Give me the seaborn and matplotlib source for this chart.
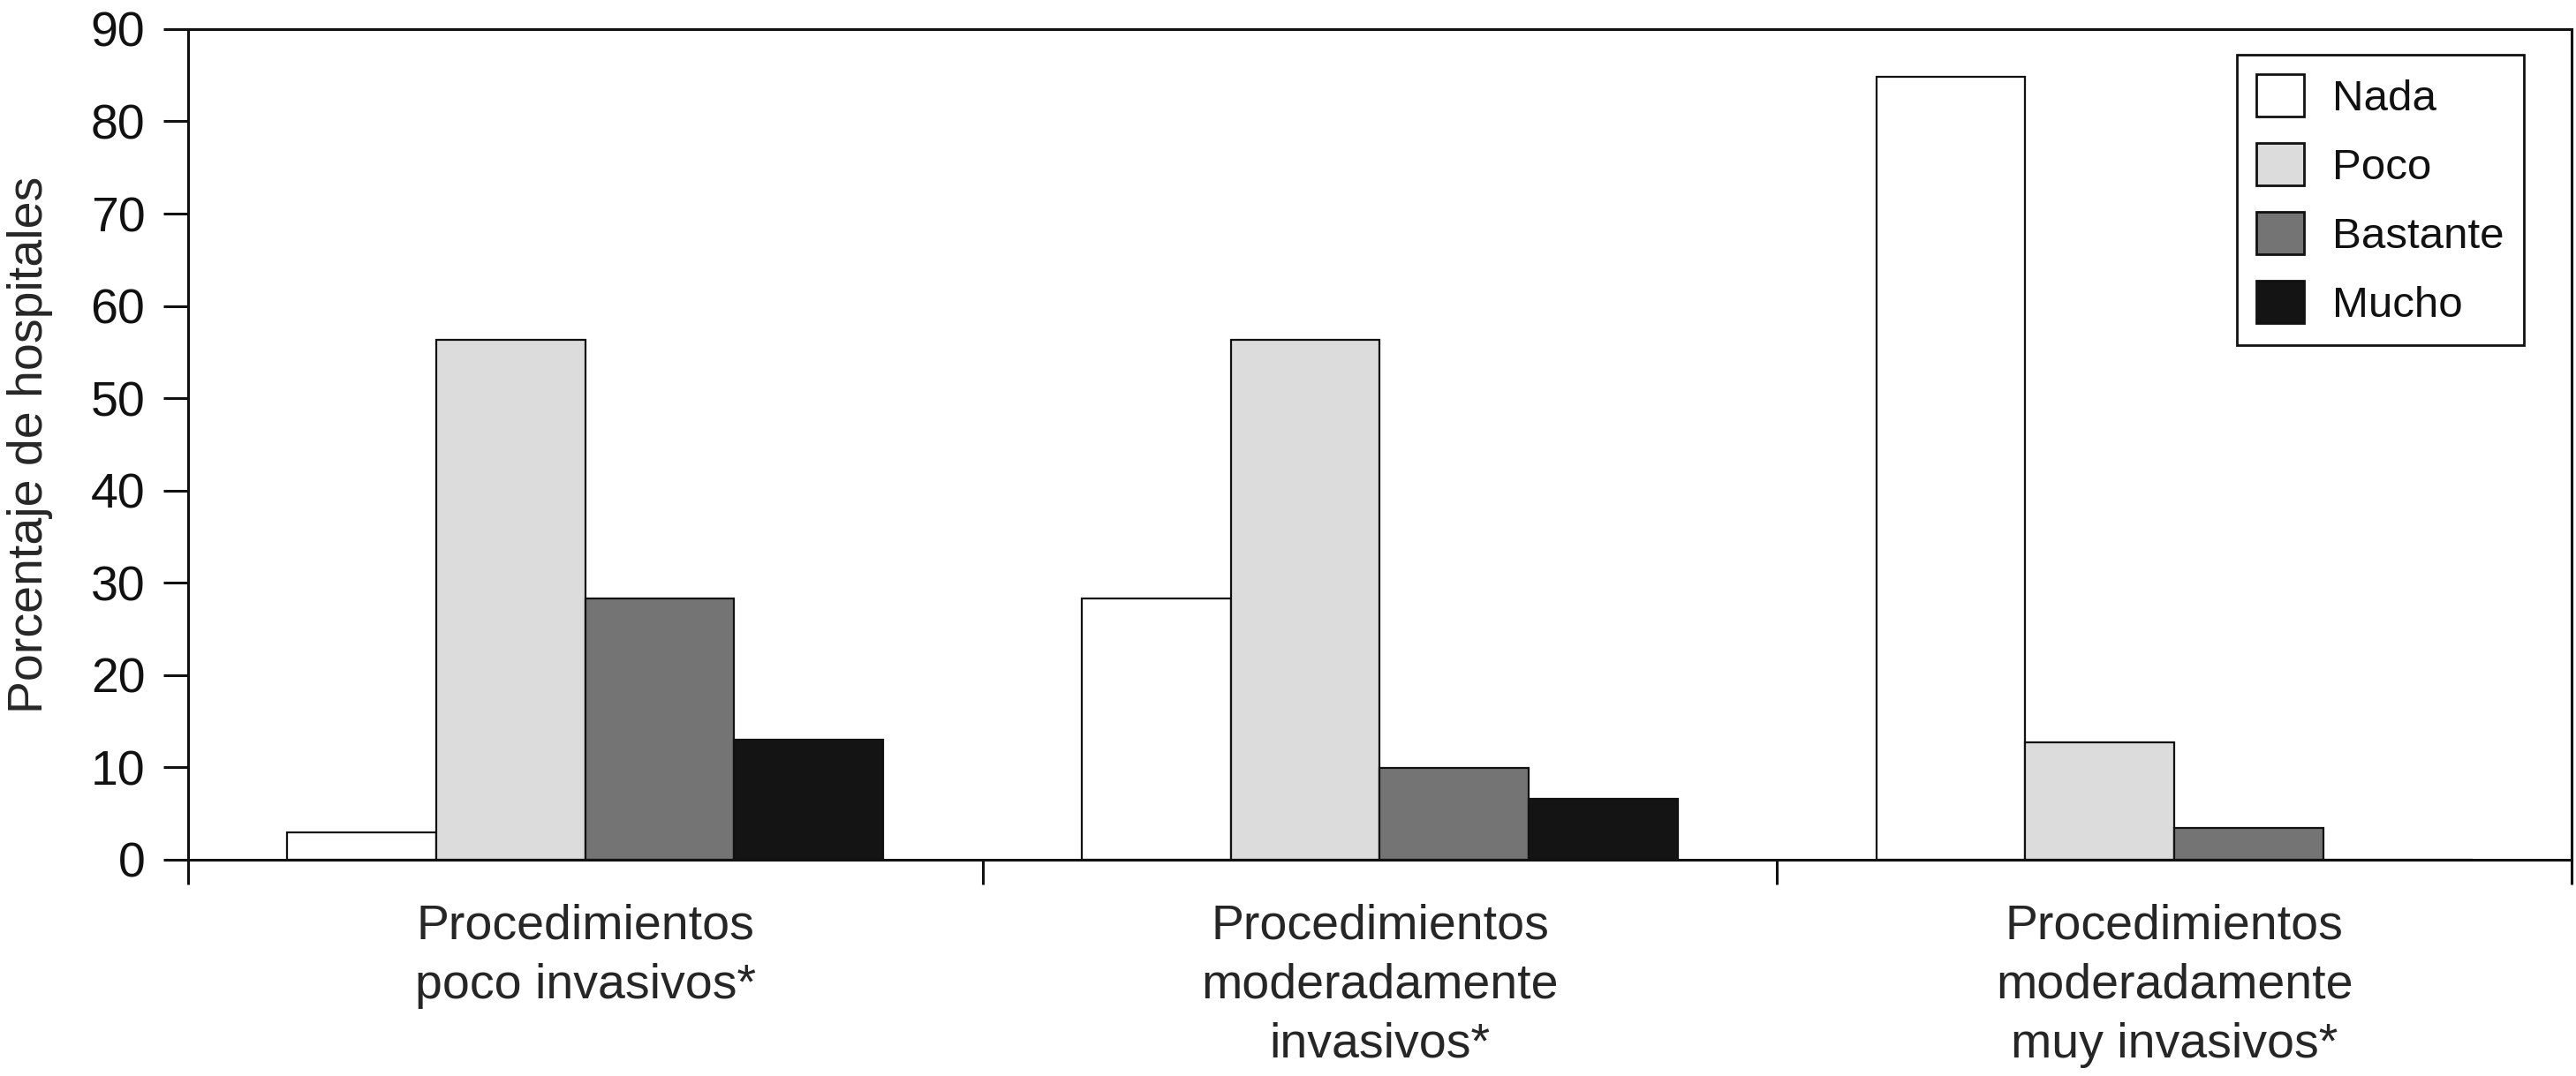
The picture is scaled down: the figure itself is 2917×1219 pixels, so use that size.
import pandas as pd
import numpy as np
import matplotlib
matplotlib.use('Agg')
import matplotlib.pyplot as plt
import seaborn as sns

# values
categories = [
    'Procedimientos\npoco invasivos*',
    'Procedimientos\nmoderadamente\ninvasivos*',
    'Procedimientos\nmoderadamente\nmuy invasivos*',
]
levels = ['Nada', 'Poco', 'Bastante', 'Mucho']
nada = [3.0, 28.3, 84.8]
poco = [56.3, 56.3, 12.7]
bastante = [28.3, 9.9, 3.4]
mucho = [13.0, 6.6, 0.0]
yticks = [0, 10, 20, 30, 40, 50, 60, 70, 80, 90]

level_colors = ['#ffffff', '#dcdcdc', '#747474', '#141414']

df = pd.DataFrame({
    'categoria': categories * 4,
    'nivel': [lv for lv in levels for _ in categories],
    'valor': nada + poco + bastante + mucho,
})

sns.set_style('ticks')
plt.rcParams['font.family'] = ['Liberation Sans', 'DejaVu Sans']
plt.rcParams['axes.linewidth'] = 2.2
plt.rcParams['text.color'] = '#111111'

fig = plt.figure(figsize=(29.17, 12.19), dpi=100)
ax = fig.add_axes([0.073, 0.201, 0.9253, 0.772])

sns.barplot(data=df, x='categoria', y='valor', hue='nivel', order=categories,
            hue_order=levels, palette=level_colors, width=0.75, gap=0,
            edgecolor='#111111', linewidth=1.6, saturation=1, ax=ax)

ax.set_ylim(0, 90)
ax.set_xlim(-0.5, 2.5)
ax.set_yticks(yticks)
ax.tick_params(axis='y', labelsize=40, length=20, width=2.2, pad=15,
               colors='#111111')
ax.set_xticks(range(len(categories)))
ax.set_xticklabels(categories, fontsize=40, linespacing=1.37)
ax.tick_params(axis='x', which='major', length=0, pad=36)
ax.set_xticks([-0.5, 0.5, 1.5, 2.5], minor=True)
ax.tick_params(axis='x', which='minor', length=20, width=2.2, color='#111111')

ax.set_xlabel('')
ax.set_ylabel('Porcentaje de hospitales', fontsize=40)
ax.yaxis.set_label_coords(-0.0565, 0.5)
for sp in ax.spines.values():
    sp.set_color('#111111')

sns.move_legend(ax, loc='upper right', bbox_to_anchor=(0.98, 0.969),
                title=None, fontsize=35.5, frameon=True, fancybox=False,
                framealpha=1, edgecolor='#111111', borderpad=0.45,
                labelspacing=0.56, handlelength=1.1, handleheight=1.1,
                handletextpad=0.65, borderaxespad=0)
leg = ax.get_legend()
leg.get_frame().set_linewidth(2.0)
for h in leg.legend_handles:
    h.set_edgecolor('#111111')
    h.set_linewidth(2.0)

fig.savefig('out.png', dpi=100, facecolor='white')
